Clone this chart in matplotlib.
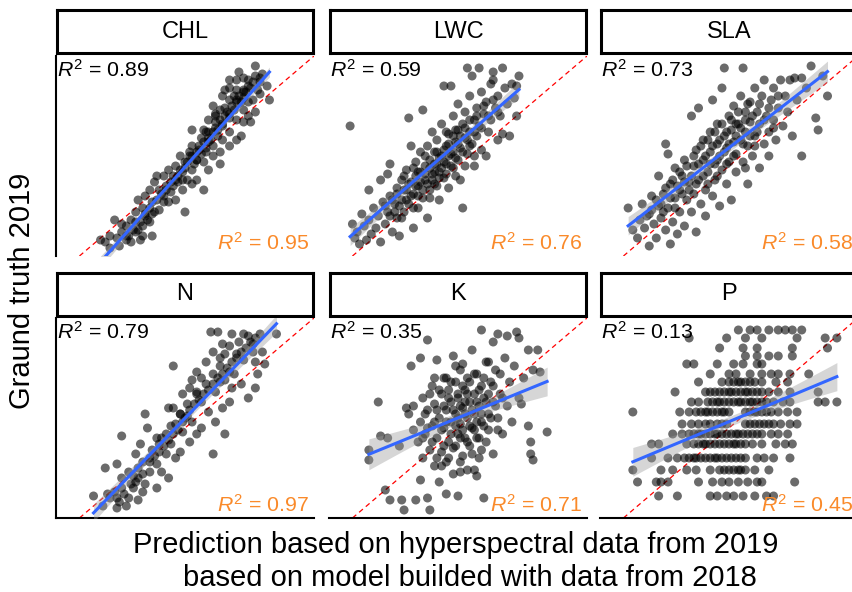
import numpy as np
import matplotlib
matplotlib.use('Agg')
import matplotlib.pyplot as plt

plt.rcParams['font.family'] = 'Liberation Sans'
plt.rcParams['mathtext.fontset'] = 'custom'
plt.rcParams['mathtext.rm'] = 'Liberation Sans'
plt.rcParams['mathtext.it'] = 'Liberation Sans:italic'

W, H = 853, 592

traits = ['CHL', 'LWC', 'SLA', 'N', 'K', 'P']
r2_2019 = [0.89, 0.59, 0.73, 0.79, 0.35, 0.13]
r2_2018 = [0.95, 0.76, 0.58, 0.97, 0.71, 0.45]

chl = [(68, 92), (75, 95), (64, 88), (67, 88), (70, 89), (72, 88), (75, 90), (78, 91), (77, 87), (73, 84),
       (80, 85), (81, 78), (77, 81), (74, 78), (72, 77), (70, 82), (67, 83), (64, 84), (62, 83), (61, 80),
       (64, 78), (67, 77), (70, 73), (72, 70), (75, 72), (73, 67), (70, 67), (67, 68), (64, 71), (60, 73),
       (57, 75), (58, 71), (55, 68), (58, 67), (61, 65), (64, 62), (67, 58), (69, 60), (64, 55), (61, 58),
       (59, 60), (55, 62), (53, 63), (52, 59), (55, 57), (57, 55), (60, 52), (60, 46), (57, 50), (54, 52),
       (51, 53), (48, 55), (48, 63), (47, 50), (50, 48), (53, 47), (55, 43), (53, 33), (50, 38), (48, 43),
       (45, 47), (43, 50), (41, 45), (44, 42), (46, 38), (48, 36), (45, 22), (44, 33), (42, 37), (40, 40),
       (38, 43), (37, 35), (39, 32), (41, 28), (38, 27), (36, 30), (34, 33), (32, 37), (33, 40), (36, 40),
       (34, 23), (31, 27), (28, 30), (30, 33), (27, 24), (25, 28), (24, 22), (28, 20), (31, 21), (30, 17),
       (27, 15), (24, 17), (22, 18), (20, 15), (18, 16), (15, 18), (18, 12), (21, 10), (24, 12), (27, 10),
       (31, 10), (16, 9), (13, 10), (11, 7), (9, 8), (13, 4), (17, 5), (20, 8), (22, 7), (26, 8),
       (20, 10), (23, 13), (26, 17), (28, 21), (30, 24), (33, 28), (35, 31), (37, 33), (39, 37), (40, 35),
       (42, 40), (43, 43), (45, 44), (46, 47), (48, 50), (49, 46), (50, 52), (51, 55), (52, 51), (53, 57),
       (54, 54), (55, 59), (56, 58), (57, 62), (58, 64), (59, 63), (60, 68), (61, 66), (62, 70), (63, 72),
       (64, 69), (65, 75), (66, 73), (67, 78), (68, 80), (69, 77), (70, 83), (71, 82), (72, 85), (74, 87),
       (76, 83), (77, 89), (70, 79), (66, 80), (62, 74), (58, 70), (54, 62), (50, 48), (47, 52), (44, 38),
       (41, 38), (36, 27), (32, 22), (29, 18), (25, 13)]

lwc = [(-1, 65), (0, 16), (1, 9), (2, 12), (3, 6), (4, 21), (5, 15), (6, 8), (7, 33), (7, 18),
       (8, 11), (9, 24), (10, 14), (11, 20), (12, 38), (12, 7), (13, 27), (14, 16), (15, 41), (15, 22),
       (16, 46), (16, 30), (17, 12), (18, 26), (19, 34), (19, 19), (20, 10), (21, 38), (21, 28), (22, 22),
       (23, 43), (23, 33), (24, 69), (24, 26), (25, 55), (25, 37), (26, 14), (26, 31), (27, 47), (27, 40),
       (28, 24), (28, 35), (29, 52), (29, 42), (30, 73), (30, 29), (31, 45), (31, 38), (32, 19), (32, 55),
       (33, 33), (33, 48), (34, 41), (34, 62), (35, 52), (35, 36), (36, 46), (36, 58), (37, 28), (37, 42),
       (38, 66), (38, 50), (39, 85), (39, 39), (40, 55), (40, 46), (41, 61), (41, 34), (42, 85), (42, 51),
       (43, 70), (43, 44), (44, 57), (44, 63), (45, 48), (45, 76), (46, 54), (46, 38), (47, 24), (47, 66),
       (48, 59), (48, 72), (49, 94), (49, 51), (50, 62), (50, 80), (51, 90), (51, 56), (52, 68), (52, 45),
       (53, 74), (53, 60), (54, 94), (54, 65), (55, 82), (55, 53), (56, 71), (57, 50), (57, 77), (58, 62),
       (59, 86), (59, 68), (60, 92), (60, 88), (61, 74), (62, 58), (62, 80), (63, 70), (64, 94), (64, 61),
       (65, 84), (66, 76), (67, 60), (68, 86), (69, 79), (70, 85), (70, 70), (71, 90),
       (14, 25), (16, 20), (17, 28), (18, 22), (19, 31), (20, 25), (21, 19), (22, 33), (23, 28), (24, 36),
       (25, 30), (26, 24), (27, 35), (28, 42), (28, 30), (29, 37), (30, 33), (31, 41), (32, 36), (33, 44),
       (33, 29), (34, 38), (35, 46), (35, 42), (36, 35), (37, 49), (37, 39), (38, 44), (39, 53), (39, 47),
       (40, 41), (41, 50), (41, 56), (42, 45), (43, 52), (43, 60), (44, 49), (45, 56), (45, 63), (46, 60),
       (47, 52), (48, 64), (49, 58), (50, 68), (50, 55), (52, 62), (53, 70), (55, 64), (56, 75), (58, 70),
       (60, 78), (62, 72), (36, 52), (31, 50), (26, 44), (22, 40), (44, 40), (48, 45), (52, 50), (40, 62)]

sla = [(2, 24), (4, 13), (6, 9), (7, 18), (8, 26), (9, 14), (11, 5), (11, 21), (12, 30), (13, 16),
       (14, 9), (15, 40), (15, 25), (16, 19), (17, 31), (18, 56), (18, 13), (19, 51), (19, 24), (20, 6),
       (20, 36), (21, 17), (22, 29), (22, 44), (23, 11), (24, 33), (24, 22), (25, 40), (26, 48), (26, 15),
       (27, 28), (28, 37), (29, 70), (29, 22), (30, 45), (30, 31), (31, 53), (31, 12), (32, 74), (32, 38),
       (33, 26), (34, 48), (34, 58), (35, 33), (35, 20), (36, 42), (37, 52), (37, 62), (38, 78), (38, 30),
       (39, 46), (39, 38), (40, 56), (40, 66), (41, 25), (41, 50), (42, 84), (42, 43), (43, 94), (43, 60),
       (44, 36), (44, 54), (45, 70), (45, 47), (46, 63), (46, 28), (47, 57), (47, 75), (48, 42), (48, 51),
       (49, 66), (50, 80), (50, 58), (51, 94), (51, 47), (52, 72), (52, 62), (53, 36), (53, 55), (54, 77),
       (54, 67), (55, 50), (56, 84), (56, 60), (57, 72), (58, 44), (58, 66), (59, 80), (60, 56), (60, 88),
       (61, 70), (62, 62), (62, 50), (63, 78), (64, 84), (64, 68), (65, 58), (66, 74), (67, 88), (68, 65),
       (69, 80), (70, 72), (71, 88), (72, 60), (73, 89), (74, 78), (76, 89), (76, 50), (78, 84), (80, 95),
       (82, 69), (83, 63), (87, 80), (85, 90),
       (10, 20), (12, 23), (14, 28), (16, 26), (17, 22), (18, 34), (20, 29), (21, 38), (22, 24), (23, 35),
       (24, 42), (25, 31), (26, 37), (27, 45), (28, 33), (29, 40), (30, 50), (31, 36), (32, 46), (33, 55),
       (34, 40), (35, 50), (36, 58), (36, 36), (37, 46), (38, 55), (39, 62), (40, 48), (41, 58), (42, 66),
       (43, 52), (44, 62), (45, 56), (46, 68), (47, 50), (48, 60), (49, 72), (50, 64), (51, 56), (52, 68),
       (53, 76), (54, 60), (55, 70), (57, 62), (58, 76), (60, 68), (62, 74), (64, 64), (66, 80), (48, 66),
       (44, 46), (40, 40), (52, 44), (56, 55)]

nit = [(56, 93), (59, 93), (65, 92), (70, 92), (72, 91), (77, 92), (84, 92), (68, 88), (74, 87), (78, 83),
       (75, 78), (79, 77), (76, 72), (75, 65), (72, 60), (69, 67), (64, 73), (62, 82), (61, 87), (67, 82),
       (60, 80), (57, 83), (54, 78), (50, 73), (48, 69), (52, 70), (57, 72), (60, 68), (65, 65), (64, 58),
       (61, 55), (62, 42), (57, 32), (58, 48), (55, 53), (52, 58), (50, 62), (47, 65), (44, 62), (40, 76),
       (40, 55), (43, 52), (45, 50), (48, 48), (52, 45), (50, 42), (47, 38), (44, 43), (41, 47), (38, 55),
       (28, 52), (29, 45), (37, 42), (39, 37), (43, 33), (41, 30), (37, 32), (34, 37), (33, 40), (26, 37),
       (18, 41), (24, 32), (30, 30), (33, 27), (35, 23), (38, 20), (30, 23), (25, 25), (21, 23), (16, 27),
       (11, 25), (18, 20), (24, 18), (28, 17), (33, 15), (27, 13), (23, 15), (18, 15), (15, 13), (21, 10),
       (25, 9), (17, 8), (13, 10), (6, 11), (10, 6), (16, 5), (20, 6), (12, 12),
       (16, 10), (19, 12), (22, 17), (25, 20), (27, 22), (30, 28), (32, 31), (34, 33), (36, 36), (38, 39),
       (40, 42), (42, 44), (44, 48), (46, 51), (47, 54), (49, 57), (51, 59), (53, 62), (55, 64), (57, 67),
       (59, 70), (61, 72), (63, 75), (65, 78), (67, 80), (69, 83), (71, 85), (73, 88), (75, 90), (58, 63),
       (54, 67), (50, 63), (46, 57), (43, 52), (39, 46), (35, 40), (31, 34), (27, 28), (23, 21), (62, 69),
       (66, 72), (70, 79), (74, 83), (64, 86), (60, 76)]

pot = [(7, 34), (7, 29), (11, 58), (12, 41), (14, 14), (15, 40), (16, 9), (20, 36), (21, 9), (22, 4),
       (23, 55), (24, 52), (25, 76), (26, 56), (26, 44), (27, 9), (28, 38), (29, 80), (29, 19), (29, 48),
       (30, 30), (30, 60), (31, 42), (32, 89), (32, 10), (32, 54), (33, 4), (33, 34), (34, 66), (34, 46),
       (35, 26), (35, 57), (36, 79), (36, 40), (37, 50), (37, 18), (38, 62), (38, 33), (39, 45), (39, 70),
       (40, 12), (40, 54), (40, 28), (41, 38), (41, 64), (42, 48), (42, 58), (43, 81), (43, 35), (43, 22),
       (44, 52), (44, 68), (45, 11), (45, 42), (45, 60), (46, 23), (46, 47), (46, 74), (47, 77), (47, 55),
       (47, 31), (48, 64), (48, 40), (49, 24), (49, 50), (49, 70), (50, 58), (50, 36), (51, 45), (51, 84),
       (52, 24), (52, 62), (52, 52), (53, 21), (53, 40), (53, 72), (54, 56), (54, 30), (55, 94), (55, 48),
       (55, 66), (56, 10), (56, 60), (57, 38), (57, 78), (58, 52), (58, 44), (59, 68), (60, 88), (60, 32),
       (60, 58), (61, 74), (62, 92), (62, 50), (63, 62), (64, 42), (65, 80), (66, 91), (66, 56), (67, 68),
       (68, 48), (69, 76), (70, 93), (71, 90), (71, 60), (72, 57), (73, 70), (75, 84), (75, 46), (76, 38),
       (76, 32), (77, 29), (77, 74), (79, 84), (80, 73), (83, 43),
       (30, 40), (31, 52), (32, 45), (33, 62), (34, 38), (35, 48), (36, 54), (36, 30), (37, 64), (38, 44),
       (39, 56), (39, 36), (40, 48), (41, 60), (41, 30), (42, 42), (42, 68), (43, 54), (44, 46), (44, 36),
       (45, 62), (45, 50), (46, 56), (46, 40), (47, 66), (47, 44), (48, 52), (48, 58), (49, 38), (49, 62),
       (50, 46), (50, 68), (51, 54), (51, 32), (52, 44), (52, 72), (53, 58), (53, 48), (54, 64), (54, 40),
       (55, 52), (56, 70), (56, 46), (57, 58), (58, 62), (59, 50), (60, 66), (61, 56), (62, 44), (63, 72),
       (64, 60), (40, 70), (38, 26), (55, 34), (46, 28), (58, 78), (35, 70), (44, 76)]

# P ground truth comes in discrete levels; predictions listed per level
p_levels = [94, 90, 85, 81, 77, 72, 68, 63, 58, 53, 47, 42, 37, 30, 24, 18, 11]
p_pred = [
    [49, 54, 57, 62, 66, 69, 72, 76],
    [28, 44, 52, 59, 74, 86, 91],
    [41, 51, 57, 72, 87],
    [52, 57, 62, 66, 72],
    [27, 30, 40, 47, 51, 57, 59],
    [37, 45, 48, 54, 59, 63, 66, 71, 79],
    [32, 42, 45, 47, 49, 50, 52, 54, 56, 59, 65, 70],
    [22, 35, 37, 39, 41, 43, 45, 46, 48, 50, 52, 53, 55, 57, 59, 62, 66, 71, 83],
    [29, 32, 36, 38, 40, 41, 43, 45, 47, 49, 50, 52, 54, 55, 57, 59, 61, 64, 68, 71, 83, 86, 91],
    [4, 24, 28, 31, 33, 35, 36, 38, 40, 42, 43, 45, 52, 54, 56, 57, 59, 61, 63, 66, 70, 74],
    [25, 29, 32, 35, 37, 40, 42, 44, 52, 54, 56, 58, 60, 62, 64, 67, 71, 74],
    [21, 25, 28, 30, 32, 33, 35, 37, 39, 40, 42, 44, 46, 48, 49, 51, 53, 55, 57, 59, 63, 66, 70],
    [12, 15, 27, 30, 32, 34, 35, 37, 39, 41, 43, 45, 47, 48, 50, 52, 55, 59, 65, 69, 72],
    [12, 19, 23, 26, 28, 30, 31, 33, 35, 37, 39, 40, 42, 44, 46, 48, 50, 52, 57, 60, 64, 71],
    [4, 16, 21, 27, 31, 37, 41, 43, 45, 47, 49, 50, 52, 56, 62],
    [6, 14, 16, 19, 32, 38, 42, 45, 49, 53, 57, 59, 73],
    [15, 23, 37, 40, 44, 47, 51, 56, 61, 64],
]
phos = [(x, lvl) for lvl, row in zip(p_levels, p_pred) for x in row]

panel_data = [chl, lwc, sla, nit, pot, phos]


def px_box(left, top, width, height):
    return [left / W, 1 - (top + height) / H, width / W, height / H]


# least squares line with 95% confidence band, like geom_smooth(method='lm')
def lm_band(x, y, xs):
    n = len(x)
    slope, icpt = np.polyfit(x, y, 1)
    fit = icpt + slope * xs
    resid = y - (icpt + slope * x)
    s = np.sqrt((resid ** 2).sum() / (n - 2))
    se = s * np.sqrt(1 / n + (xs - x.mean()) ** 2 / ((x - x.mean()) ** 2).sum())
    return fit, fit - 1.97 * se, fit + 1.97 * se


fig = plt.figure(figsize=(W / 100, H / 100), dpi=100)

col_left = [56, 329, 600]
row_top = [56, 318]
strip_top = [10, 273]

for i, name in enumerate(traits):
    r, c = divmod(i, 3)
    ax = fig.add_axes(px_box(col_left[c], row_top[r], 258, 200))
    pts = np.array(panel_data[i], dtype=float)
    x, y = pts[:, 0], pts[:, 1]

    ax.axline((0, 0), slope=1, color='red', lw=0.9, ls=(0, (4, 3)), zorder=1)
    ax.scatter(x, y, s=42, color='black', alpha=0.58, edgecolors='none', zorder=2)
    xs = np.linspace(x.min(), x.max(), 100)
    fit, lo, hi = lm_band(x, y, xs)
    ax.fill_between(xs, lo, hi, color='#999999', alpha=0.4, lw=0, zorder=3)
    ax.plot(xs, fit, color='#3366FF', lw=2.2, zorder=4)

    ax.text(0.004, 0.985, r'$R^2$ = %.2f' % r2_2019[i], transform=ax.transAxes,
            ha='left', va='top', fontsize=15.3, color='black', zorder=5)
    ax.text(0.98, 0.01, r'$R^2$ = %.2f' % r2_2018[i], transform=ax.transAxes,
            ha='right', va='bottom', fontsize=15.3, color='#FA8A2A', zorder=5)

    ax.set_xlim(-10, 100)
    ax.set_ylim(0, 100)
    ax.set_xticks([])
    ax.set_yticks([])
    for side in ['top', 'right', 'left', 'bottom']:
        ax.spines[side].set_visible(False)
    if c == 0:
        ax.spines['left'].set_visible(True)
        ax.spines['left'].set_linewidth(1.5)
    if r == 1:
        ax.spines['bottom'].set_visible(True)
        ax.spines['bottom'].set_linewidth(1.5)

    sax = fig.add_axes(px_box(col_left[c] + 1, strip_top[r], 256, 43))
    sax.set_xticks([])
    sax.set_yticks([])
    for sp in sax.spines.values():
        sp.set_linewidth(2.2)
    sax.text(0.5, 0.5, name, ha='center', va='center', fontsize=17, transform=sax.transAxes)

fig.text(22 / W, 1 - 291 / H, 'Graund truth 2019', rotation=90, ha='center', va='center', fontsize=21)
fig.text(456 / W, 1 - 545 / H, 'Prediction based on hyperspectral data from 2019',
         ha='center', va='center', fontsize=21)
fig.text(470 / W, 1 - 578 / H, 'based on model builded with data from 2018',
         ha='center', va='center', fontsize=21)

fig.savefig('out.png', dpi=100)
